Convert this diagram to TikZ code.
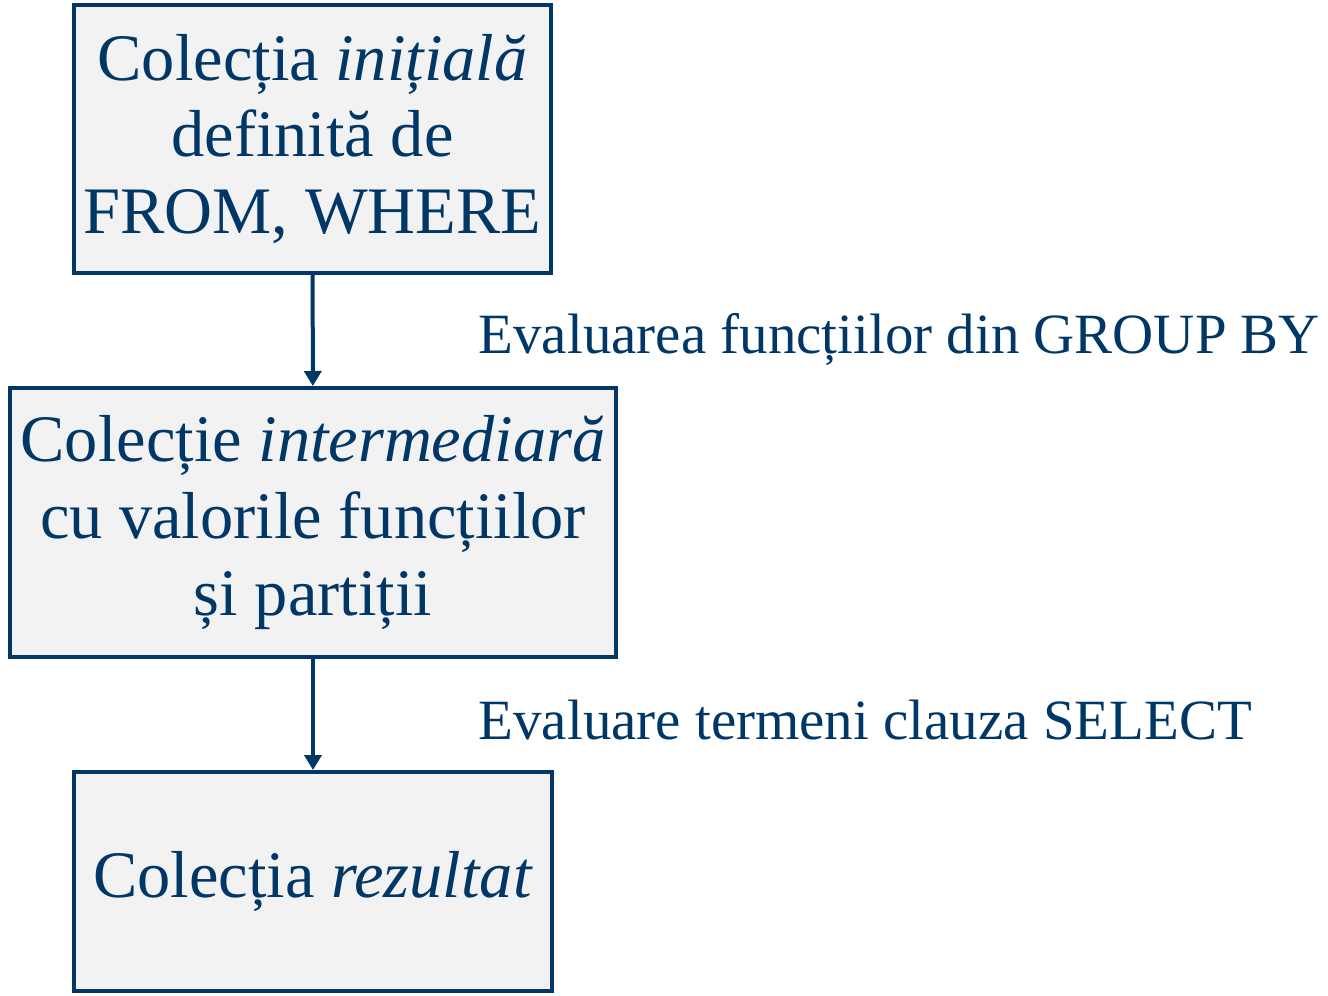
\documentclass[tikz,border=0pt]{standalone}
\usepackage{fontspec}
\setmainfont{Liberation Serif}
\usetikzlibrary{arrows.meta}
\definecolor{sqlblue}{RGB}{0,55,103}
\definecolor{boxgray}{RGB}{242,242,242}

\begin{document}
\begin{tikzpicture}[
  etapa/.style={draw=sqlblue, fill=boxgray, line width=0.04cm, text=sqlblue,
    align=center, inner sep=0pt, font=\fontsize{18.9}{21.8}\selectfont},
  pas/.style={text=sqlblue, anchor=base west, inner sep=0pt,
    font=\fontsize{16.2}{19}\selectfont},
  sageata/.style={draw=sqlblue, line width=0.04cm,
    -{Triangle[width=0.17cm,length=0.15cm]}}
]
\useasboundingbox (0,0) rectangle (13.28,9.95);

\node[etapa, minimum width=4.77cm, minimum height=2.68cm] (initiala) at (3.125,8.56)
  {Colecția \textit{inițială}\\definită de\\FROM, WHERE};
\node[etapa, minimum width=6.06cm, minimum height=2.69cm] (interm) at (3.13,4.725)
  {Colecție \textit{intermediară}\\cu valorile funcțiilor\\și partiții};
\node[etapa, minimum width=4.78cm, minimum height=2.19cm] (rezultat) at (3.13,1.135)
  {Colecția \textit{rezultat}};

\draw[sageata] (initiala) -- (interm);
\draw[sageata] (interm) -- (rezultat);

\node[pas] (grupare) at (4.78,6.42) {Evaluarea funcțiilor din GROUP BY};
\node[pas] (selectie) at (4.78,2.56) {Evaluare termeni clauza SELECT};
\end{tikzpicture}
\end{document}
